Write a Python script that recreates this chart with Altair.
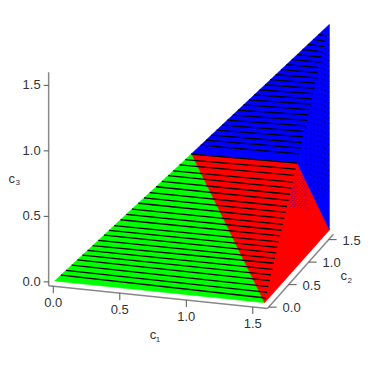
import altair as alt
import pandas as pd

# Surface vertices (c1, c2, c3)
GREEN = [(0.0, 0.0, 0.0), (1.03, 0.0, 1.08), (1.58, 0.0, 0.0)]
RED = [(1.03, 0.0, 1.08), (1.58, 0.81, 0.79), (1.58, 1.62, 0.0), (1.58, 0.0, 0.0)]
BLUE = [(1.03, 0.0, 1.08), (1.58, 1.62, 1.57), (1.58, 1.62, 0.0), (1.58, 0.81, 0.79)]

# Mesh lines: lower surface, c3 at the left edge and at the fold
low_left = [.05,.09,.135,.18,.22,.26,.30,.345,.39,.43,.47,.52,.565,.61,.66,.705,.75,.80,.845,.895,.935,.985,1.03,1.076]
low_fold = [.027,.059,.091,.125,.157,.189,.223,.251,.282,.313,.344,.377,.409,.442,.476,.51,.543,.578,.612,.647,.681,.718,.754,.788]
# Mesh lines: upper surface, c2 at the left edge and at the fold
up_left = [.107,.17,.232,.295,.358,.42,.484,.546,.612,.674,.737,.80,.863,.926,.988,1.053,1.115,1.178,1.241,1.304,1.367,1.43,1.492]
up_fold = [.862,.896,.929,.962,.994,1.026,1.058,1.09,1.121,1.153,1.184,1.215,1.245,1.276,1.307,1.337,1.367,1.398,1.428,1.458,1.489,1.52,1.55]

# Mesh nodes showing through on the side facet (c1 at its maximum)
node_c2_dark = [1.03, 1.16, 1.23, 1.33, 1.43, 1.51, 1.60]
node_c3_dark = [.30,.34,.38,.42,.46,.50,.54,.58,.62,.66,.70,.74,.78,.82,.86,.90,.94,.98,1.02,1.06,1.10,1.14,1.18,1.22,1.26,1.30,1.34,1.38,1.42,1.46,1.50]
node_c2_blue = [.62,.66,.70,.74,.78,.82,.86,.90,.94,.98,1.02,1.06]
node_c3_blue = [.30,.33,.36,.39,.42,.45,.48,.51,.54,.57,.60,.63,.66,.69,.72]

ticks = [0.0, 0.5, 1.0, 1.5]
tick_labels = ["0.0", "0.5", "1.0", "1.5"]
LO = -0.03
C1_LO, C1_HI = -0.035, 1.61
C2_HI, C3_HI = 1.62, 1.60


def proj(c1, c2, c3):
    return (54.5 + 133 * c1 + 40 * c2 - 16, 281 + 13.8 * c1 - 45 * c2 - 131 * c3 - 8)


X = alt.X("x:Q", scale=alt.Scale(domain=[0, 350], range=[0, 350]), axis=None)
Y = alt.Y("y:Q", scale=alt.Scale(domain=[0, 358], range=[0, 358]), axis=None)


def poly(verts, col):
    rows = []
    for i, v in enumerate(list(verts) + [verts[0]]):
        x, y = proj(*v)
        rows.append({"x": x, "y": y, "i": i})
    return alt.Chart(pd.DataFrame(rows)).mark_line(
        fill=col, stroke=col, strokeWidth=0.5, clip=False, interpolate="linear"
    ).encode(x=X, y=Y, order="i:Q")


def segs(pairs, color, width):
    rows = []
    for a, b in pairs:
        xa, ya = proj(*a)
        xb, yb = proj(*b)
        rows.append({"x": xa, "y": ya, "x2": xb, "y2": yb})
    return alt.Chart(pd.DataFrame(rows)).mark_rule(color=color, strokeWidth=width).encode(
        x=X, y=Y, x2="x2:Q", y2="y2:Q"
    )


def txt(rows, align, dx, dy, size=13):
    d = []
    for pt, s in rows:
        x, y = proj(*pt)
        d.append({"x": x, "y": y, "t": s})
    return alt.Chart(pd.DataFrame(d)).mark_text(
        align=align, baseline="middle", dx=dx, dy=dy, fontSize=size,
        font="Liberation Sans", color="#333333"
    ).encode(x=X, y=Y, text="t:N")


def dots(pts, color, size, opacity):
    d = [{"x": proj(*p)[0], "y": proj(*p)[1]} for p in pts]
    return alt.Chart(pd.DataFrame(d)).mark_circle(color=color, size=size, opacity=opacity).encode(x=X, y=Y)


low_pairs = [((0.955 * a, 0.0, a), (1.58, 1.03 * b, b)) for a, b in zip(low_left, low_fold)]
up_pairs = [((1.03 + .3395 * a, a, 1.08 + .3025 * a), (1.58, b, .01 + .963 * b)) for a, b in zip(up_left, up_fold)]

dark_nodes = [(1.58, a, b) for a in node_c2_dark for b in node_c3_dark
              if b < .01 + .963 * a - .02 and b > .79 - .975 * (a - .81) + .02]
blue_nodes = [(1.58, a, b) for a in node_c2_blue for b in node_c3_blue
              if b < a / 1.03 - .02 and b < .79 - .975 * (a - .81) - .02
              and proj(1.58, a, b)[1] + 8 < 208]

axis_lines = [
    ((C1_LO, LO, LO), (C1_LO, LO, C3_HI)),
    ((C1_LO, LO, LO), (C1_HI, LO, LO)),
    ((C1_HI, LO, LO), (C1_HI, C2_HI, LO)),
]
c1_pts = [(t, LO, LO) for t in ticks]
c2_pts = [(C1_HI, t, LO) for t in ticks]
c3_pts = [(C1_LO, LO, t) for t in ticks]


def tick_marks(pts, dx, dy):
    rows = []
    for p in pts:
        x, y = proj(*p)
        rows.append({"x": x, "y": y, "xo": dx, "yo": dy})
    return alt.Chart(pd.DataFrame(rows)).transform_calculate(
        x2="datum.x+datum.xo", y2="datum.y+datum.yo"
    ).mark_rule(color="#555555", strokeWidth=1).encode(x=X, y=Y, x2="x2:Q", y2="y2:Q")


chart = alt.layer(
    poly(GREEN, "#00ff00"),
    poly(RED, "#ff0000"),
    poly(BLUE, "#0000ff"),
    dots(blue_nodes, "#0000ff", 2, 0.45),
    dots(dark_nodes, "#000000", 2, 0.6),
    segs(low_pairs, "#000000", 1.3),
    segs(up_pairs, "#000000", 1.3),
    segs(axis_lines, "#888888", 1.5),
    tick_marks(c1_pts, 0, 7),
    tick_marks(c2_pts, 8, 0),
    tick_marks(c3_pts, -5, 0),
    txt(list(zip(c1_pts, tick_labels)), "center", 0, 17),
    txt(list(zip(c2_pts, tick_labels)), "center", 23, 1),
    txt(list(zip(c3_pts, tick_labels)), "right", -8, 0),
    txt([((0.75, LO, LO), "c")], "center", 0, 38),
    txt([((0.75, LO, LO), "1")], "center", 5, 43, 8),
    txt([((C1_HI, 0.75, LO), "c")], "center", 45, 3),
    txt([((C1_HI, 0.75, LO), "2")], "center", 51, 8, 8),
    txt([((C1_LO, LO, 0.78), "c")], "center", -37, -1),
    txt([((C1_LO, LO, 0.78), "3")], "center", -31, 3, 8),
).properties(
    width=350, height=358, autosize="none",
    padding={"left": 8, "top": 0, "right": 0, "bottom": 0},
).configure_view(stroke=None)

chart.save("out.html", embed_options={"renderer": "svg", "actions": False})
